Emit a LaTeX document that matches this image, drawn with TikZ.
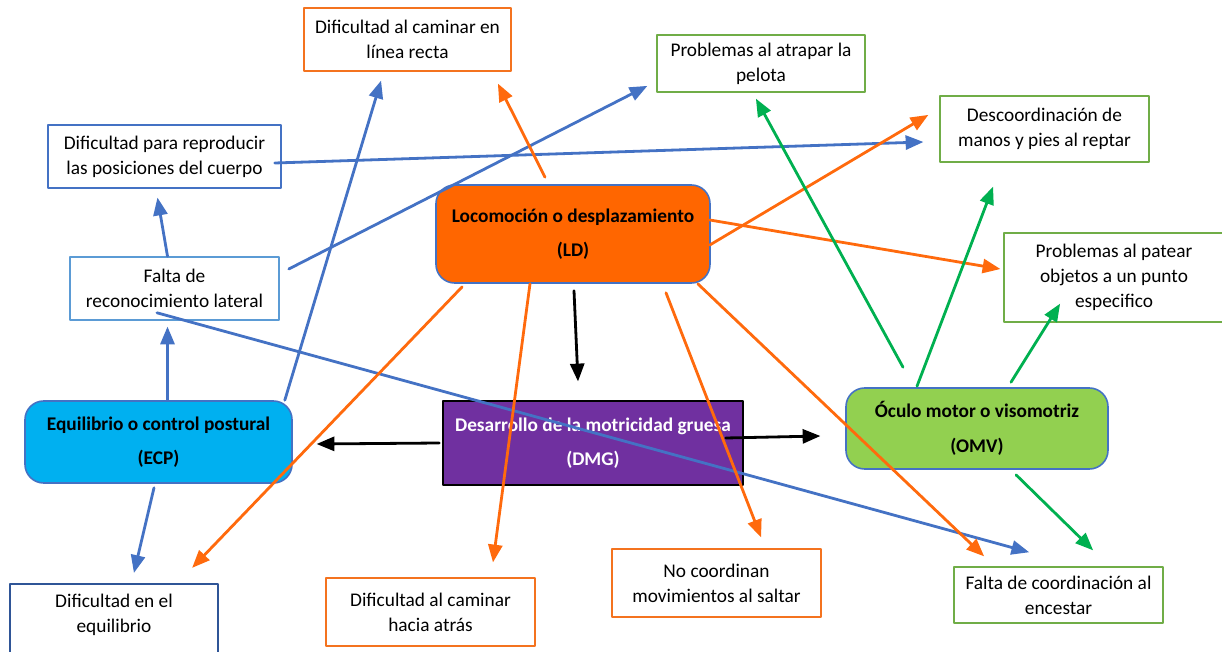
\documentclass[tikz,border=0pt]{standalone}
\usepackage{fontspec}
\setmainfont{Carlito}
\usetikzlibrary{arrows}
\definecolor{lnblue}{HTML}{4472C4}
\definecolor{lnorange}{HTML}{FF6A0D}
\definecolor{lngreen}{HTML}{00B050}
\definecolor{bxgreen}{HTML}{70AD47}
\definecolor{bxorange}{HTML}{F4731F}
\definecolor{bxblue}{HTML}{4472C4}
\definecolor{bxlightblue}{HTML}{5B9BD5}
\definecolor{bxdarkblue}{HTML}{2F5597}
\definecolor{ldfill}{HTML}{FF6600}
\definecolor{ecpfill}{HTML}{00B0F0}
\definecolor{dmgfill}{HTML}{7030A0}
\definecolor{omvfill}{HTML}{92D050}
\tikzset{boxsize/.style 2 args={minimum width=#1*0.75pt,minimum height=#2*0.75pt}}

\begin{document}
\begin{tikzpicture}[line cap=round,line join=round,>=triangle 45,x=0.75pt,y=-0.75pt,
    font=\fontsize{14.5}{18.75}\selectfont,
    note/.style={draw,line width=1.2pt,fill=white,align=center,inner sep=0pt},
    area/.style={draw=bxblue,line width=1.2pt,rounded corners=14pt,align=center,inner sep=0pt,
      font=\fontsize{14.5}{18.75}\selectfont\bfseries},
    link/.style={->,line width=2.1pt}]
    \path[use as bounding box] (0,0) rectangle (1222,652);

    % main areas
    \node[area,fill=ldfill,boxsize={274}{98}] (ld) at (573,234) {Locomoción o desplazamiento\\[7pt](LD)};
    \node[area,fill=ecpfill,boxsize={267}{82}] (ecp) at (158.5,442) {Equilibrio o control postural\\[7pt](ECP)};
    \node[area,fill=dmgfill,draw=black,rounded corners=0pt,text=white,boxsize={300}{84}] (dmg) at (593,443) {Desarrollo de la motricidad gruesa\\[7pt](DMG)};
    \node[area,fill=omvfill,boxsize={262}{81}] (omv) at (977,428.5) {Óculo motor o visomotriz\\[7pt](OMV)};

    % difficulties
    \node[note,draw=bxorange,boxsize={207}{63}] (lr) at (407.5,39.5) {Dificultad al caminar en\\línea recta};
    \node[note,draw=bxgreen,boxsize={208}{57}] (pel) at (761,63.5) {Problemas al atrapar la\\pelota};
    \node[note,draw=bxgreen,boxsize={209}{66}] (rep) at (1044.5,129) {Descoordinación de\\manos y pies al reptar};
    \node[note,draw=bxblue,boxsize={233}{63}] (pos) at (164.5,156.5) {Dificultad para reproducir\\las posiciones del cuerpo};
    \node[note,draw=bxgreen,boxsize={220}{89}] (pat) at (1114,277.5) {Problemas al patear\\objetos a un punto\\especifico};
    \node[note,draw=bxlightblue,boxsize={209}{63}] (lat) at (174.5,288.5) {Falta de\\reconocimiento lateral};
    \node[align=center,inner sep=0pt,boxsize={208}{62}] (equ) at (114,615) {Dificultad en el\\equilibrio};
    \draw[bxdarkblue,line width=1.2pt] ([yshift=-30pt]equ.south west) |- (equ.north) -| ([yshift=-30pt]equ.south east);
    \node[note,draw=bxorange,boxsize={209}{68}] (atr) at (430.5,612) {Dificultad al caminar\\hacia atrás};
    \node[note,draw=bxorange,boxsize={209}{68}] (coo) at (716.5,583) {No coordinan\\movimientos al saltar};
    \node[note,draw=bxgreen,boxsize={209}{56}] (enc) at (1058.5,595) {Falta de coordinación al\\encestar};

    % blue links
    \draw[link,lnblue] ([shift={(-7,0)}]lat.north) -- ([shift={(-7,9)}]pos.south);
    \draw[link,lnblue] ([shift={(9,0)}]ecp.north) -- ([shift={(-7,6)}]lat.south);
    \draw[link,lnblue] ([shift={(-8,0)}]ecp.north east) -- ([shift={(-26.5,9)}]lr.south);
    \draw[link,lnblue] ([shift={(-7,6.5)}]pos.east) -- ([shift={(-16,13)}]rep.west);
    \draw[link,lnblue] ([shift={(9,-19.5)}]lat.east) -- ([shift={(-9,22.5)}]pel.west);
    \draw[link,lnblue] ([shift={(-17.5,-8)}]lat.south) -- ([shift={(-29.5,-14)}]enc.north);
    \draw[link,lnblue] ([shift={(-4.5,4)}]ecp.south) -- ([shift={(20,-11)}]equ.north);

    % orange links
    \draw[link,lnorange] ([shift={(-28,-7)}]ld.north) -- ([shift={(90.5,12)}]lr.south);
    \draw[link,lnorange] ([shift={(-1,11)}]ld.east) -- ([shift={(-11,-14)}]rep.west);
    \draw[link,lnorange] ([shift={(-1,-14)}]ld.east) -- ([shift={(-3,-8.5)}]pat.west);
    \draw[link,lnorange] ([shift={(27,3)}]ld.south west) -- ([shift={(-26,-16)}]equ.north east);
    \draw[link,lnorange] ([shift={(-43,0)}]ld.south) -- ([shift={(62.5,-15)}]atr.north);
    \draw[link,lnorange] ([shift={(93,9)}]ld.south) -- ([shift={(44.5,-11)}]coo.north);
    \draw[link,lnorange] ([shift={(-13,0)}]ld.south east) -- ([shift={(-74.5,-10)}]enc.north);

    % green links
    \draw[link,lngreen] ([shift={(-74,-20)}]omv.north) -- ([shift={(-5,6)}]pel.south);
    \draw[link,lngreen] ([shift={(-60,-1)}]omv.north) -- ([shift={(-51.5,24)}]rep.south);
    \draw[link,lngreen] ([shift={(34,-5)}]omv.north) -- ([shift={(-54,-19)}]pat.south);
    \draw[link,lngreen] ([shift={(39,5)}]omv.south) -- ([shift={(34.5,-16)}]enc.north);

    % black links
    \draw[link,black] ([shift={(1,7)}]ld.south) -- ([shift={(-15,-19)}]dmg.north);
    \draw[link,black] ([shift={(-3,0)}]dmg.west) -- ([shift={(24,2)}]ecp.east);
    \draw[link,black] ([shift={(-18,-5)}]dmg.east) -- ([shift={(-25,7.5)}]omv.west);
\end{tikzpicture}
\end{document}
